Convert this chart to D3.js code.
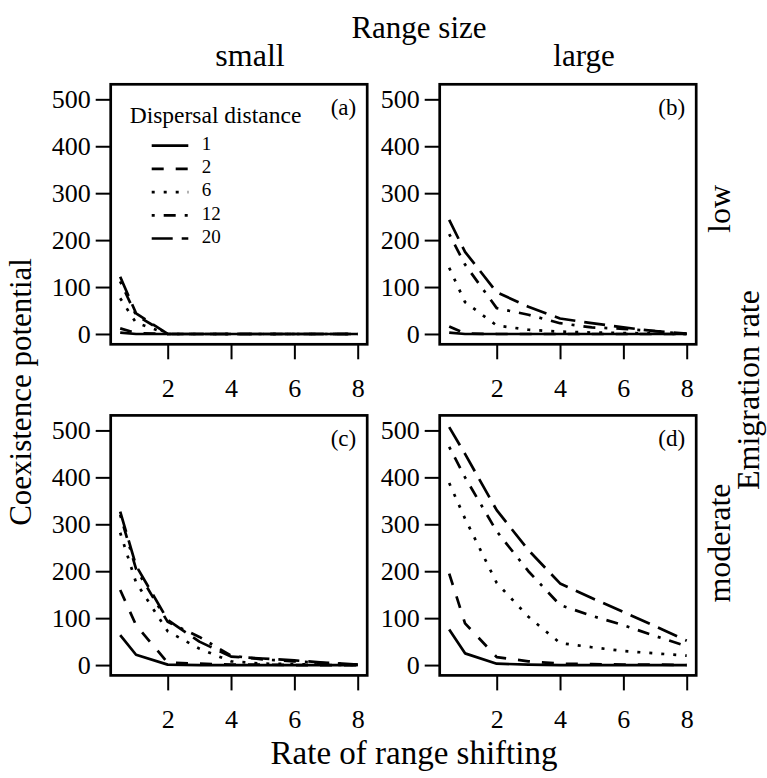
<!DOCTYPE html>
<html>
<head>
<meta charset="utf-8">
<script src="https://cdn.jsdelivr.net/npm/d3@7"></script>
<style>
  body { margin: 0; background: #fff; }
  svg text { font-family: "Liberation Serif", "DejaVu Serif", "Times New Roman", Times, serif; fill: #000; }
</style>
</head>
<body>
<div id="chart"></div>
<script>
// rate of range shifting (x) and the dispersal distances (series)
var shiftRates = [0.5, 1, 2, 3, 4, 5, 6, 7, 8];
var dispersal = ['1', '2', '6', '12', '20'];
var xTicks = [2, 4, 6, 8];
var yTicks = [0, 100, 200, 300, 400, 500];

// (a) small range, low emigration
var smallLow = [
    [3, 0, 0, 0, 0, 0, 0, 0, 0],
    [12, 2, 0, 0, 0, 0, 0, 0, 0],
    [76, 24, 0, 0, 0, 0, 0, 0, 0],
    [112, 40, 0, 0, 0, 0, 0, 0, 0],
    [122, 44, 0, 0, 0, 0, 0, 0, 0]
];
// (b) large range, low emigration
var largeLow = [
    [3, 0, 0, 0, 0, 0, 0, 0, 0],
    [16, 1, 0, 0, 0, 0, 0, 0, 0],
    [141, 68, 18, 9, 5, 3, 2, 1, 0],
    [213, 148, 55, 41, 23, 14, 11, 6, 0],
    [243, 175, 89, 58, 33, 23, 14, 6, 1]
];
// (c) small range, moderate emigration
var smallModerate = [
    [64, 22, 1, 0, 0, 0, 0, 0, 0],
    [160, 85, 5, 3, 1, 1, 0, 0, 0],
    [282, 176, 72, 35, 8, 3, 2, 1, 0],
    [320, 205, 92, 60, 20, 12, 8, 4, 1],
    [327, 212, 96, 50, 18, 14, 10, 5, 1]
];
// (d) large range, moderate emigration
var largeModerate = [
    [76, 25, 3, 1, 0, 0, 0, 0, 0],
    [195, 89, 17, 8, 3, 2, 1, 1, 0],
    [388, 312, 175, 103, 47, 38, 30, 25, 20],
    [465, 400, 285, 200, 128, 105, 85, 62, 40],
    [507, 450, 330, 245, 174, 143, 113, 83, 52]
];

// R style line types: solid, dashed, dotted, dotdash, longdash
var dashes = [null, '12,12', '3,9', '3,9,12,9', '21,9'];

var serif = '"Liberation Serif", "DejaVu Serif", "Times New Roman", Times, serif';
var width = 767, height = 778;
var pw = 256.5, ph = 260;
var lefts = [110.7, 439.7], tops = [84.3, 415.4];

var panels = [
    { id: '(a)', data: smallLow, col: 0, row: 0, legend: true },
    { id: '(b)', data: largeLow, col: 1, row: 0 },
    { id: '(c)', data: smallModerate, col: 0, row: 1 },
    { id: '(d)', data: largeModerate, col: 1, row: 1 }
];

var x = d3.scaleLinear().domain([0.2, 8.3]).range([0, pw]);
var y = d3.scaleLinear().domain([-22, 532]).range([ph, 0]);

var line = d3.line()
    .x(function (d) { return x(d[0]); })
    .y(function (d) { return y(d[1]); });

var svg = d3.select('#chart').append('svg')
    .attr('width', width)
    .attr('height', height)
    .style('font-family', serif);

panels.forEach(function (p) {
    var g = svg.append('g')
        .attr('transform', 'translate(' + lefts[p.col] + ',' + tops[p.row] + ')');

    // axes
    var ya = g.append('g').call(d3.axisLeft(y).tickValues(yTicks).tickSize(15).tickPadding(5));
    var xa = g.append('g').attr('transform', 'translate(0,' + ph + ')')
        .call(d3.axisBottom(x).tickValues(xTicks).tickSize(15).tickPadding(19));
    [ya, xa].forEach(function (a) {
        a.attr('font-family', serif).attr('font-size', 26);
        a.select('.domain').remove();
        a.selectAll('line').attr('stroke', '#000').attr('stroke-width', 2);
        a.selectAll('text').attr('fill', '#000');
    });

    // series
    p.data.forEach(function (vals, i) {
        var pts = shiftRates.map(function (r, j) { return [r, vals[j]]; });
        g.append('path')
            .attr('d', line(pts))
            .attr('fill', 'none')
            .attr('stroke', '#000')
            .attr('stroke-width', 2.7)
            .attr('stroke-linejoin', 'round')
            .attr('stroke-dasharray', dashes[i]);
    });

    g.append('rect')
        .attr('width', pw).attr('height', ph)
        .attr('fill', 'none').attr('stroke', '#000').attr('stroke-width', 2.7);

    g.append('text')
        .attr('x', pw - 11).attr('y', 25)
        .attr('text-anchor', 'end').attr('dominant-baseline', 'middle')
        .style('font-size', '23px')
        .text(p.id);

    if (p.legend) {
        g.append('text')
            .attr('x', 19).attr('y', 33)
            .attr('dominant-baseline', 'middle')
            .style('font-size', '23.5px')
            .text('Dispersal distance');
        dispersal.forEach(function (lab, i) {
            var ly = 61.4 + i * 23.2;
            g.append('line')
                .attr('x1', 41).attr('x2', 77.6)
                .attr('y1', ly).attr('y2', ly)
                .attr('stroke', '#000').attr('stroke-width', 2.7)
                .attr('stroke-dasharray', dashes[i]);
            g.append('text')
                .attr('x', 91).attr('y', ly)
                .attr('dominant-baseline', 'middle')
                .style('font-size', '19px')
                .text(lab);
        });
    }
});

// outer labels
svg.append('text').attr('x', 419).attr('y', 38).attr('text-anchor', 'middle')
    .style('font-size', '31px').text('Range size');
svg.append('text').attr('x', 250).attr('y', 66).attr('text-anchor', 'middle')
    .style('font-size', '32px').text('small');
svg.append('text').attr('x', 584).attr('y', 66).attr('text-anchor', 'middle')
    .style('font-size', '31px').text('large');
svg.append('text').attr('x', 414).attr('y', 764).attr('text-anchor', 'middle')
    .style('font-size', '33px').text('Rate of range shifting');

svg.append('text')
    .attr('transform', 'translate(31,392) rotate(-90)')
    .attr('text-anchor', 'middle')
    .style('font-size', '31px').text('Coexistence potential');
svg.append('text')
    .attr('transform', 'translate(759,390) rotate(-90)')
    .attr('text-anchor', 'middle')
    .style('font-size', '32px').text('Emigration rate');
svg.append('text')
    .attr('transform', 'translate(730,209) rotate(-90)')
    .attr('text-anchor', 'middle')
    .style('font-size', '32px').text('low');
svg.append('text')
    .attr('transform', 'translate(730,543) rotate(-90)')
    .attr('text-anchor', 'middle')
    .style('font-size', '32px').text('moderate');
</script>
</body>
</html>
